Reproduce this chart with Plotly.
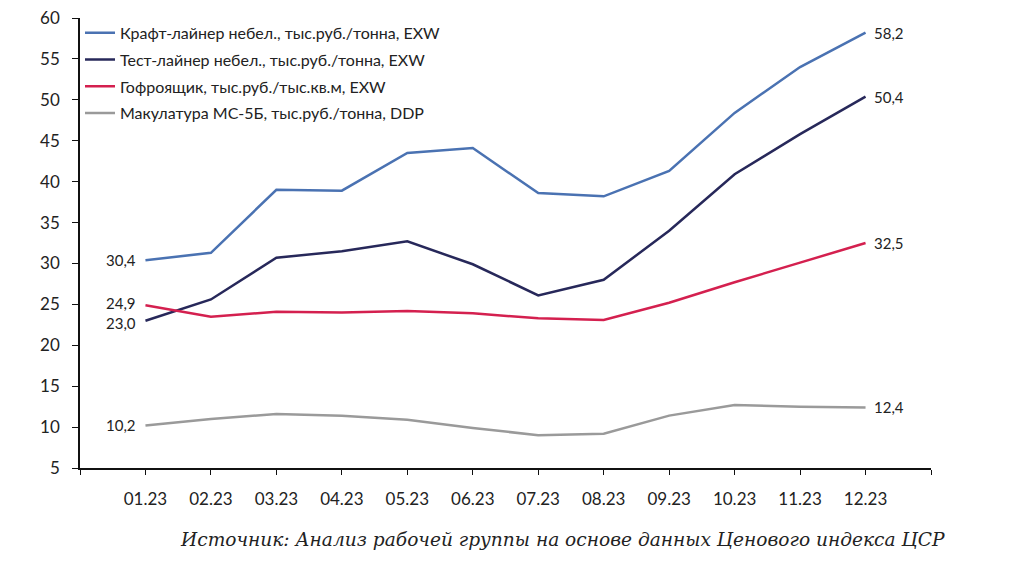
import plotly.graph_objects as go

months = ["01.23", "02.23", "03.23", "04.23", "05.23", "06.23",
          "07.23", "08.23", "09.23", "10.23", "11.23", "12.23"]

kraft = [30.4, 31.3, 39.0, 38.9, 43.5, 44.1, 38.6, 38.2, 41.3, 48.4, 54.0, 58.2]
test = [23.0, 25.6, 30.7, 31.5, 32.7, 29.9, 26.1, 28.0, 34.0, 40.9, 45.8, 50.4]
gofro = [24.9, 23.5, 24.1, 24.0, 24.2, 23.9, 23.3, 23.1, 25.2, 27.7, 30.1, 32.5]
macul = [10.2, 11.0, 11.6, 11.4, 10.9, 9.9, 9.0, 9.2, 11.4, 12.7, 12.5, 12.4]

names = [
    "Крафт-лайнер небел., тыс.руб./тонна, EXW",
    "Тест-лайнер небел., тыс.руб./тонна, EXW",
    "Гофроящик, тыс.руб./тыс.кв.м, EXW",
    "Макулатура МС-5Б, тыс.руб./тонна, DDP",
]
colors = ["#4A72B2", "#27285A", "#D4204F", "#9A9A9A"]
series = [kraft, test, gofro, macul]
# small vertical nudges for the start labels so that 24,9 and 23,0 do not collide
start_nudge = [0, -2, 2, 0]

source_text = "Источник: Анализ рабочей группы на основе данных Ценового индекса ЦСР"

FONT = "Lato"


def fmt(v):
    return f"{v:.1f}".replace(".", ",")


fig = go.Figure()
xs = list(range(len(months)))
annotations = []
for i, (name, col, vals) in enumerate(zip(names, colors, series)):
    fig.add_trace(go.Scatter(
        x=xs, y=vals, name=name, mode="lines",
        line=dict(color=col, width=2.5),
        legendgroup=f"g{i}",
        cliponaxis=False,
    ))
    annotations.append(dict(
        x=xs[0], y=vals[0], xref="x", yref="y", text=fmt(vals[0]),
        xanchor="right", yanchor="middle", xshift=-7, yshift=start_nudge[i],
        showarrow=False, font=dict(family=FONT, size=15, color="#222222"),
    ))
    annotations.append(dict(
        x=xs[-1], y=vals[-1], xref="x", yref="y", text=fmt(vals[-1]),
        xanchor="left", yanchor="middle", xshift=6,
        showarrow=False, font=dict(family=FONT, size=15, color="#222222"),
    ))

annotations.append(dict(
    text=source_text, xref="paper", yref="paper",
    x=0.567, y=-0.159, xanchor="center", yanchor="middle",
    showarrow=False,
    font=dict(family="DejaVu Serif", size=18.6, color="#222222", style="italic"),
))

# page body has an 8px margin, so the figure is sized to fit the window
fig.update_layout(
    width=1016, height=556,
    margin=dict(l=72, r=93, t=8, b=96),
    paper_bgcolor="white", plot_bgcolor="white",
    font=dict(family=FONT, size=16, color="#222222"),
    showlegend=True,
    legend=dict(
        x=0.0, y=1.005, xanchor="left", yanchor="top",
        bgcolor="rgba(0,0,0,0)", tracegroupgap=3,
        font=dict(family=FONT, size=16, color="#222222"),
        itemwidth=30,
    ),
    xaxis=dict(
        range=[-1, 12],
        tickmode="array",
        tickvals=list(range(-1, 13)),
        ticktext=[""] + months + [""],
        showline=True, linecolor="#111111", linewidth=1.5,
        ticks="outside", ticklen=5, tickcolor="#111111",
        showgrid=False, zeroline=False, automargin=False,
        ticklabelstandoff=10, ticklabeloverflow="allow",
        tickfont=dict(family=FONT, size=17, color="#222222"),
    ),
    yaxis=dict(
        range=[5, 60],
        tickmode="array",
        tickvals=list(range(5, 61, 5)),
        showline=True, linecolor="#111111", linewidth=1.5,
        ticks="outside", ticklen=6, tickcolor="#111111",
        showgrid=False, zeroline=False, automargin=False,
        ticklabelstandoff=9, ticklabeloverflow="allow",
        tickfont=dict(family=FONT, size=17, color="#222222"),
    ),
    annotations=annotations,
)

fig.write_html("out.html")
